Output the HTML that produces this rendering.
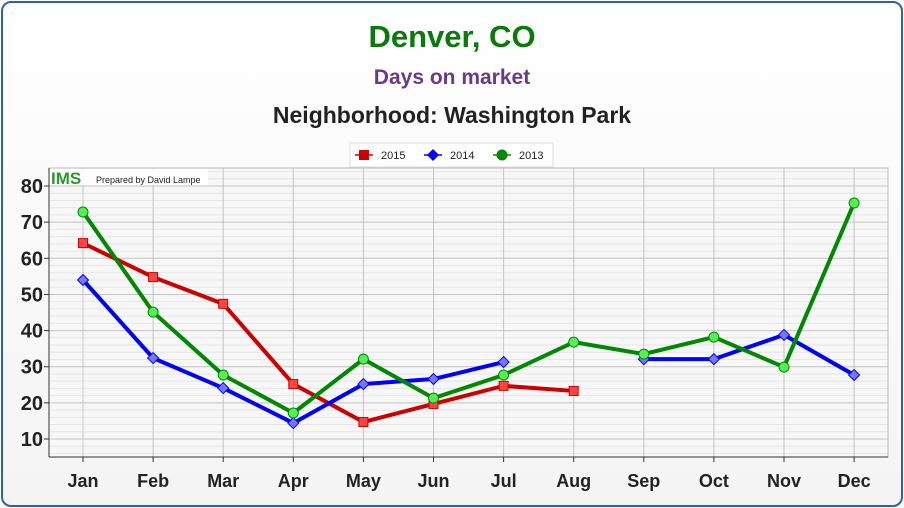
<!DOCTYPE html>
<html><head><meta charset="utf-8"><style>
html,body{margin:0;padding:0;background:#fff;}
body{width:904px;height:508px;overflow:hidden;font-family:"Liberation Sans",sans-serif;}
#frame{position:absolute;left:1px;top:1px;width:898px;height:502px;border:2px solid #2b62ad;border-radius:10px;background:linear-gradient(#fff,#f4f4f4);}
</style></head><body>
<div id="frame"></div>
<svg id="chart" width="904" height="508" style="position:absolute;left:0;top:0">
<text x="452" y="47" text-anchor="middle" font-size="31" font-weight="bold" fill="#0a7a0a">Denver, CO</text>
<text x="452" y="84" text-anchor="middle" font-size="21" font-weight="bold" fill="#6a3a8a">Days on market</text>
<text x="452" y="123" text-anchor="middle" font-size="23" font-weight="bold" fill="#222">Neighborhood: Washington Park</text>
<g id="legend">
<rect x="350" y="143" width="203" height="24" fill="#fff" stroke="#ddd"/>
<g><line x1="355" y1="155" x2="373" y2="155" stroke="#c00" stroke-width="1.5"/><rect x="359" y="150" width="10" height="10" fill="#c00"/><text x="381" y="159" font-size="11" fill="#222">2015</text></g>
<g><line x1="424" y1="155" x2="442" y2="155" stroke="#00f" stroke-width="1.5"/><path d="M433 149 L439 155 L433 161 L427 155Z" fill="#00f"/><text x="450" y="159" font-size="11" fill="#222">2014</text></g>
<g><line x1="493" y1="155" x2="511" y2="155" stroke="#080" stroke-width="1.5"/><circle cx="502" cy="155" r="5.5" fill="#080"/><text x="519" y="159" font-size="11" fill="#222">2013</text></g>
</g>
<g id="plot"></g>
</svg>
<script>
const months=["Jan","Feb","Mar","Apr","May","Jun","Jul","Aug","Sep","Oct","Nov","Dec"];
const yTicks=[10,20,30,40,50,60,70,80];
const s2015=[64.2,54.8,47.4,25.2,14.7,19.7,24.7,23.3,null,null,null,null];
const s2014=[54,32.4,24.1,14.4,25.2,26.6,31.3,null,32.1,32.1,38.8,27.7];
const s2013=[72.8,45.1,27.7,17.2,32.1,21.3,27.7,36.8,33.5,38.2,29.9,75.3];
const NS="http://www.w3.org/2000/svg";
const L=49,R=888,T=168,B=457;
function x(i){return 83+i*70.1;}
function y(v){return 439-(v-10)*3.614;}
const g=document.getElementById('plot');
function mk(t,a){const e=document.createElementNS(NS,t);for(const k in a)e.setAttribute(k,a[k]);g.appendChild(e);return e;}
const bg=mk('rect',{x:L,y:T,width:R-L,height:B-T,fill:'#f7f7f7'});


for(let v=6;v<=84;v+=2){if(v%10===0)continue;const yy=y(v);if(yy<T||yy>B)continue;mk('line',{x1:L,x2:R,y1:yy,y2:yy,stroke:'#e6e6e6','stroke-width':1});}
yTicks.forEach(v=>{mk('line',{x1:L,x2:R,y1:y(v),y2:y(v),stroke:'#c4c4c4'});mk('line',{x1:L-5,x2:L,y1:y(v),y2:y(v),stroke:'#333'});
const t=mk('text',{x:L-6,y:y(v)+7,'text-anchor':'end','font-size':20,'font-weight':'bold',fill:'#222'});t.textContent=v;

});
months.forEach((m,i)=>{mk('line',{x1:x(i),x2:x(i),y1:T,y2:B,stroke:'#c4c4c4'});mk('line',{x1:x(i),x2:x(i),y1:B,y2:B+5,stroke:'#333'});
const t=mk('text',{x:x(i),y:487,'text-anchor':'middle','font-size':18,'font-weight':'bold',fill:'#222'});t.textContent=m;

});
mk('rect',{x:L,y:T,width:R-L,height:B-T,fill:'none',stroke:'#bbb'});
mk('line',{x1:L,x2:L,y1:T,y2:B,stroke:'#333'});mk('line',{x1:L,x2:R,y1:B,y2:B,stroke:'#333'});
mk('rect',{x:50,y:169,width:158,height:16,fill:'#fff',opacity:0.9});
const ims=mk('text',{x:51,y:184,'font-size':17,'font-weight':'bold',fill:'#2a9a2a'});ims.textContent='IMS';


const pb=mk('text',{x:96,y:183,'font-size':9,fill:'#222'});pb.textContent='Prepared by David Lampe';


function series(arr,color,fill,shape,name){
 let d='';let pen=false;
 arr.forEach((v,i)=>{if(v===null){pen=false;return;}d+=(pen?'L':'M')+x(i)+' '+y(v)+' ';pen=true;});
 const p=mk('path',{d:d,fill:'none',stroke:color,'stroke-width':4,'stroke-linejoin':'round'});
 
 
 arr.forEach((v,i)=>{if(v===null)return;const cx=x(i),cy=y(v);let e;
  if(shape==='sq')e=mk('rect',{x:cx-4.5,y:cy-4.5,width:9,height:9,fill:fill,stroke:color,'stroke-width':1});
  else if(shape==='di')e=mk('path',{d:`M${cx} ${cy-5.5}L${cx+5.5} ${cy}L${cx} ${cy+5.5}L${cx-5.5} ${cy}Z`,fill:fill,stroke:color,'stroke-width':1});
  else e=mk('circle',{cx:cx,cy:cy,r:5,fill:fill,stroke:color,'stroke-width':1});
  
  });
}
series(s2015,'#c00','#f44','sq','series-2015');
series(s2014,'#00f','#77f','di','series-2014');
series(s2013,'#080','#5e5','ci','series-2013');
</script>
</body></html>
